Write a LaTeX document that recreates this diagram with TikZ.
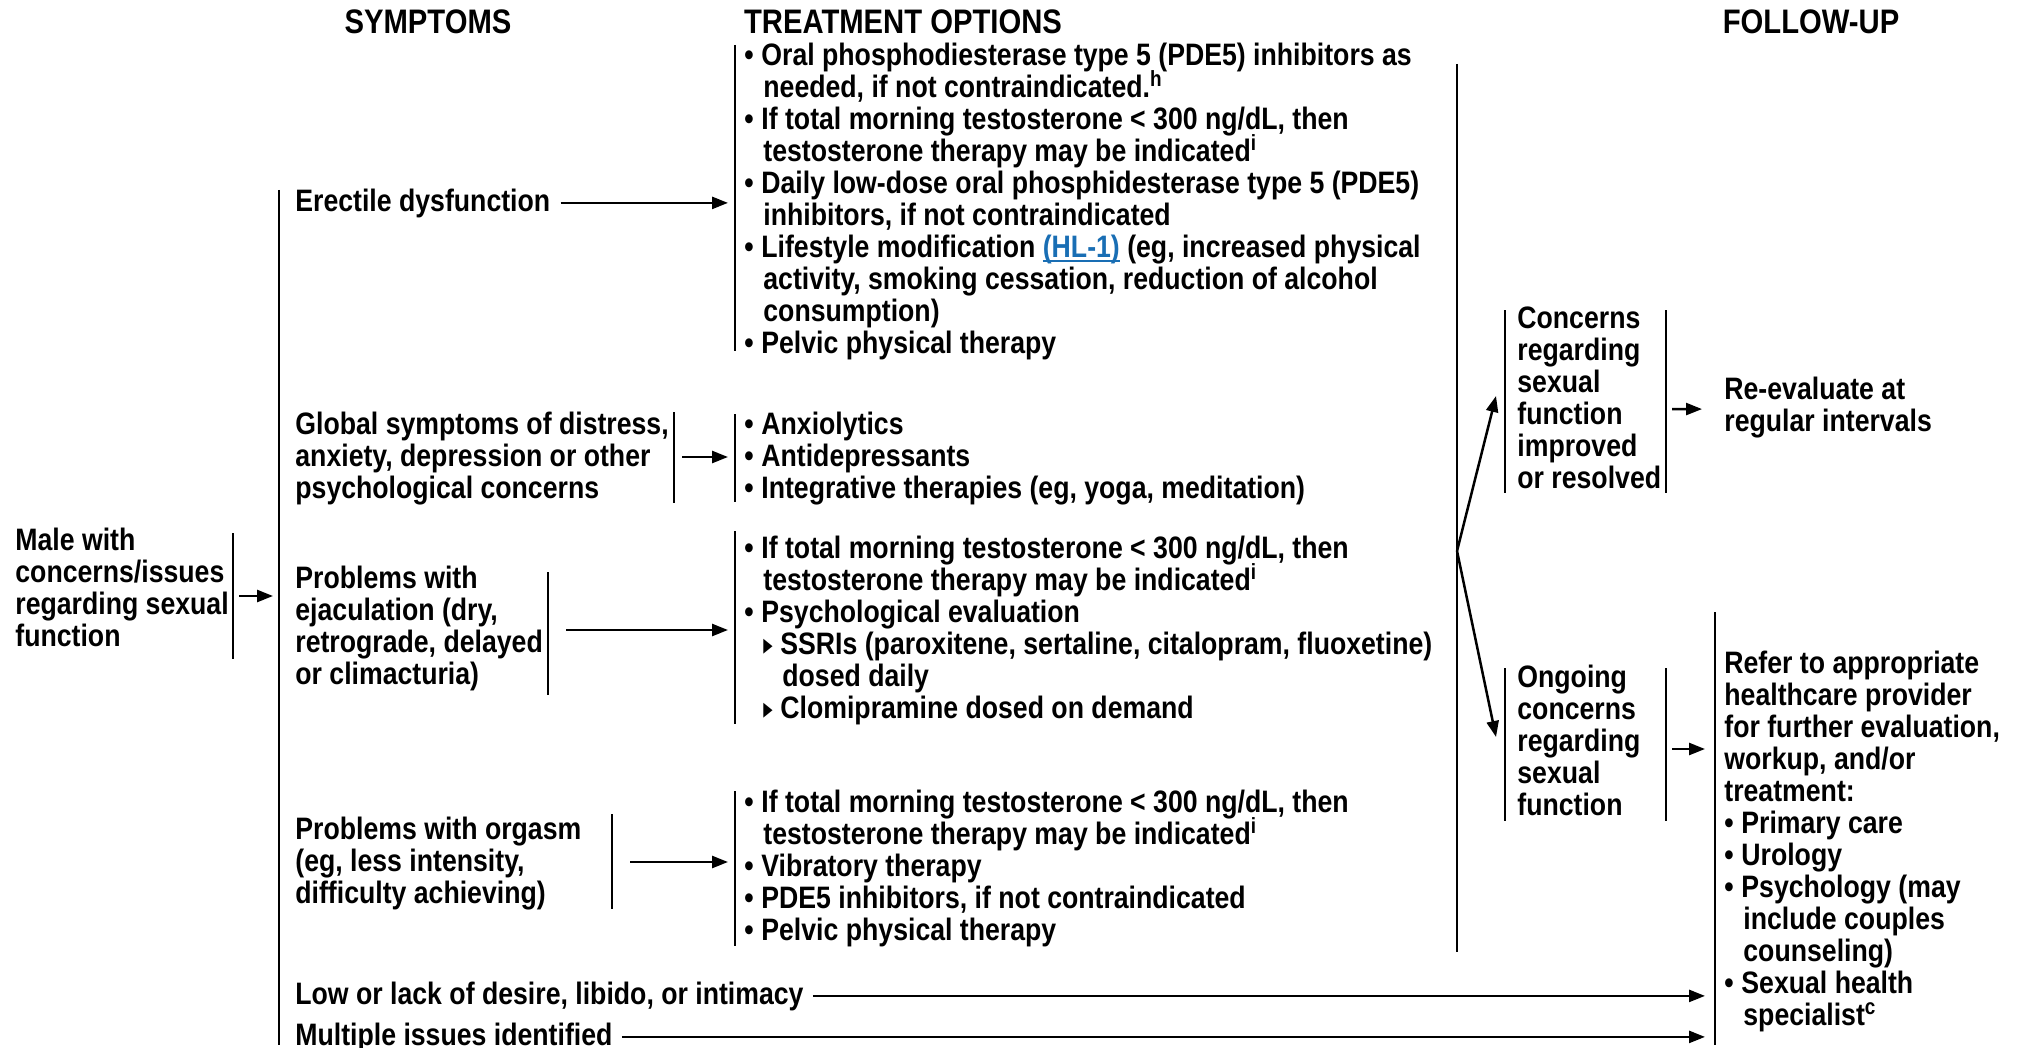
\documentclass[tikz,border=0pt]{standalone}
\usepackage{fontspec}
\usepackage{graphicx}
\usetikzlibrary{arrows.meta,calc}
\newfontfamily\nf{Liberation Sans}[FakeStretch=0.86]
\newfontfamily\symf{DejaVu Sans}
\definecolor{hlblue}{RGB}{25,110,180}
% fixed first-line height and last-line depth for every text block
\newcommand\tstrut{\vrule height 13pt depth 4.5pt width 0pt}
\newcommand\bul{\makebox[8.5pt][l]{•}}
\newcommand\cont{\hspace*{9.5pt}}
\newcommand\subbul{\hspace*{9.5pt}\makebox[8.5pt][l]{\scalebox{0.62}[1]{\symf\fontsize{15}{15}\selectfont ▸}}}
\newcommand\subcont{\hspace*{19pt}}
\newcommand\sps[1]{\smash{\raisebox{5.5pt}{\fontsize{11}{11}\selectfont #1}}}
% blue link text with a close underline
\newcommand\ulink[1]{\textcolor{hlblue}{\setbox0\hbox{#1}\rlap{\rule[-2.2pt]{\wd0}{1pt}}\box0}}
\begin{document}
\begin{tikzpicture}[x=0.5pt,y=-0.5pt,
  txt/.style={anchor=north west,inner sep=0pt,align=left,
    font=\nf\bfseries\fontsize{15.5}{16}\selectfont,
    execute at begin node=\tstrut,execute at end node=\tstrut},
  head/.style={anchor=center,inner sep=0pt,font=\nf\bfseries\fontsize{17}{18}\selectfont},
  bar/.style={line width=1.25pt},
  arr/.style={line width=1.25pt,-{Triangle[length=8pt,width=6pt]},shorten >=3.5pt}]

\fill[white] (0,0) rectangle (2017,1048);
\useasboundingbox (0,0) rectangle (2017,1048);

% column headings
\node[head] (hs) at (428,22) {SYMPTOMS};
\node[head] (ht) at (903,22) {TREATMENT OPTIONS};
\node[head] (hf) at (1811,22) {FOLLOW-UP};

% text blocks
\node[txt] (male) at (15,528) {Male with\\concerns/issues\\regarding sexual\\function};
\node[txt] (ed) at (295,185) {Erectile dysfunction};
\node[txt] (edt) at (744,43) {\bul Oral phosphodiesterase type 5 (PDE5) inhibitors as\\\cont needed, if not contraindicated.\sps{h}\\\bul If total morning testosterone < 300 ng/dL, then\\\cont testosterone therapy may be indicated\sps{i}\\\bul Daily low-dose oral phosphidesterase type 5 (PDE5)\\\cont inhibitors, if not contraindicated\\\bul Lifestyle modification \ulink{(HL-1)} (eg, increased physical\\\cont activity, smoking cessation, reduction of alcohol\\\cont consumption)\\\bul Pelvic physical therapy};
\node[txt] (gl) at (295,412) {Global symptoms of distress,\\anxiety, depression or other\\psychological concerns};
\node[txt] (anx) at (744,412) {\bul Anxiolytics\\\bul Antidepressants\\\bul Integrative therapies (eg, yoga, meditation)};
\node[txt] (ej) at (295,566) {Problems with\\ejaculation (dry,\\retrograde, delayed\\or climacturia)};
\node[txt] (ejt) at (744,536) {\bul If total morning testosterone < 300 ng/dL, then\\\cont testosterone therapy may be indicated\sps{i}\\\bul Psychological evaluation\\\subbul SSRIs (paroxitene, sertaline, citalopram, fluoxetine)\\\subcont dosed daily\\\subbul Clomipramine dosed on demand};
\node[txt] (org) at (295,817) {Problems with orgasm\\(eg, less intensity,\\difficulty achieving)};
\node[txt] (orgt) at (744,790) {\bul If total morning testosterone < 300 ng/dL, then\\\cont testosterone therapy may be indicated\sps{i}\\\bul Vibratory therapy\\\bul PDE5 inhibitors, if not contraindicated\\\bul Pelvic physical therapy};
\node[txt] (low) at (295,978) {Low or lack of desire, libido, or intimacy};
\node[txt] (mult) at (295,1019) {Multiple issues identified};
\node[txt] (imp) at (1517,306) {Concerns\\regarding\\sexual\\function\\improved\\or resolved};
\node[txt] (re) at (1724,377) {Re-evaluate at\\regular intervals};
\node[txt] (ong) at (1517,665) {Ongoing\\concerns\\regarding\\sexual\\function};
\node[txt] (ref) at (1724,651) {Refer to appropriate\\healthcare provider\\for further evaluation,\\workup, and/or\\treatment:\\\bul Primary care\\\bul Urology\\\bul Psychology (may\\\cont include couples\\\cont counseling)\\\bul Sexual health\\\cont specialist\sps{c}};

% bracket bars
\coordinate (maleT) at (233,533); \coordinate (maleB) at (233,659);
\coordinate (symT) at (279,190);  \coordinate (symB) at (279,1045);
\coordinate (edtT) at (735,45);   \coordinate (edtB) at (735,351);
\coordinate (glT) at (674,412);   \coordinate (glB) at (674,503);
\coordinate (anxT) at (735,414);  \coordinate (anxB) at (735,502);
\coordinate (ejT) at (548,572);   \coordinate (ejB) at (548,695);
\coordinate (ejtT) at (735,531);  \coordinate (ejtB) at (735,724);
\coordinate (orgT) at (612,814);  \coordinate (orgB) at (612,909);
\coordinate (orgtT) at (735,791); \coordinate (orgtB) at (735,946);
\coordinate (allT) at (1457,64);  \coordinate (allB) at (1457,952);
\coordinate (impLT) at (1505,310); \coordinate (impLB) at (1505,493);
\coordinate (impRT) at (1666,310); \coordinate (impRB) at (1666,493);
\coordinate (ongLT) at (1505,668); \coordinate (ongLB) at (1505,821);
\coordinate (ongRT) at (1666,668); \coordinate (ongRB) at (1666,821);
\coordinate (refT) at (1715,612);  \coordinate (refB) at (1715,1045);

\foreach \b in {male,sym,edt,gl,anx,ej,ejt,org,orgt,all,impL,impR,ongL,ongR,ref}
  \draw[bar] (\b T) -- (\b B);

% connector end points on the bars
\coordinate (maleOut) at (233,596);
\coordinate (glOut) at (674,457);
\coordinate (ejOut) at (548,630);
\coordinate (orgOut) at (612,862);
\coordinate (split) at (1457,551);
\coordinate (upTip) at (1496,396);
\coordinate (dnTip) at (1496,737);
\coordinate (impOut) at (1666,409);
\coordinate (ongOut) at (1666,749);

% connectors
\draw[arr,shorten <=3pt,shorten >=3pt] (maleOut) -- (maleOut -| symT);
\draw[arr,shorten <=5pt] (ed.east) -- (ed.east -| edtT);
\draw[arr,shorten <=4pt] (glOut) -- (glOut -| anxT);
\draw[arr,shorten <=9pt] (ejOut) -- (ejOut -| ejtT);
\draw[arr,shorten <=9pt] (orgOut) -- (orgOut -| orgtT);
\draw[arr,shorten <=4.5pt,shorten >=5pt] (low.east) -- (low.east -| refT);
\draw[arr,shorten <=4.5pt,shorten >=5pt] (mult.east) -- (mult.east -| refT);
\draw[arr,shorten >=0pt] (split) -- (upTip);
\draw[arr,shorten >=0pt] (split) -- (dnTip);
\draw[arr,shorten <=3pt,shorten >=11pt] (impOut) -- (re.west);
\draw[arr,shorten <=3pt,shorten >=5pt] (ongOut) -- (ongOut -| refT);
\end{tikzpicture}
\end{document}
